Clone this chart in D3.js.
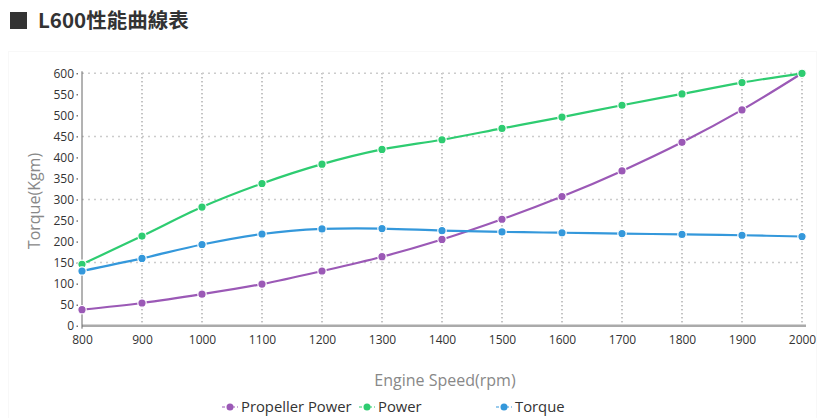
<!DOCTYPE html>
<html>
<head>
<meta charset="utf-8">
<script src="https://cdn.jsdelivr.net/npm/d3@7"></script>
<style>
body { margin: 0; background: #fff; font-family: "Open Sans", "Noto Sans", sans-serif; }
</style>
</head>
<body>
<div id="svgDiv"></div>
<script>
var w = 825;
var h = 418;

// data
var rpm = [800, 900, 1000, 1100, 1200, 1300, 1400, 1500, 1600, 1700, 1800, 1900, 2000];
var propellerPower = [38, 54, 75, 99, 130, 164, 205, 253, 307, 368, 436, 513, 600];
var power = [146, 213, 282, 338, 384, 419, 442, 469, 496, 524, 551, 578, 600];
var torque = [130, 160, 193, 218, 230, 231, 226, 223, 221, 219, 217, 215, 212];
var yTicks = [0, 50, 100, 150, 200, 250, 300, 350, 400, 450, 500, 550, 600];
var yGrid = [150, 300, 450, 600];

var seriesNames = ['Propeller Power', 'Power', 'Torque'];
var seriesColors = ['#9b59b6', '#2ecc71', '#3498db'];
var seriesValues = [propellerPower, power, torque];

var svg = d3.select("#svgDiv")
	.append("svg")
	.attr("width", w)
	.attr("height", h);

// title
svg.append("rect")
	.attr("x", 10).attr("y", 12)
	.attr("width", 17).attr("height", 17)
	.style("fill", "#333");
svg.append("text")
	.attr("x", 38).attr("y", 28)
	.style("font-family", "'Noto Sans CJK TC', sans-serif")
	.style("font-weight", "bold")
	.style("font-size", "20.5px")
	.style("fill", "#333")
	.text("L600性能曲線表");

// faint frame
svg.append("rect")
	.attr("x", 8.5).attr("y", 51.5)
	.attr("width", 808).attr("height", 370)
	.style("fill", "none")
	.style("stroke", "#f8f8f8");

var x = d3.scaleLinear().domain([800, 2000]).range([82, 802]);
var y = d3.scaleLinear().domain([0, 600]).range([325.7, 73.3]);

// vertical grid
svg.append("g")
	.selectAll("line")
	.data(rpm.slice(1))
	.enter()
	.append("line")
	.attr("x1", function(d) { return x(d); })
	.attr("x2", function(d) { return x(d); })
	.attr("y1", y(600))
	.attr("y2", y(0))
	.style("stroke", "#555")
	.style("stroke-width", 1)
	.style("stroke-dasharray", "1,3");

// horizontal grid
svg.append("g")
	.selectAll("line")
	.data(yGrid)
	.enter()
	.append("line")
	.attr("x1", x(800))
	.attr("x2", x(2000))
	.attr("y1", function(d) { return y(d); })
	.attr("y2", function(d) { return y(d); })
	.style("stroke", "#ccc")
	.style("stroke-width", 1.5)
	.style("stroke-dasharray", "2,4");

// x axis
var xAxis = svg.append("g")
	.attr("transform", "translate(0," + y(0) + ")")
	.call(d3.axisBottom(x).tickValues(rpm).tickSize(0).tickPadding(10).tickFormat(d3.format("d")));
xAxis.select(".domain").style("stroke", "#aaa").style("stroke-width", 2.5)
	.attr("d", "M" + x(800) + ",0H" + (x(2000) + 4));
xAxis.selectAll("text")
	.style("font-family", "'Open Sans', sans-serif")
	.style("font-size", "12px")
	.style("fill", "#333");

// y axis
var yAxis = svg.append("g")
	.attr("transform", "translate(" + x(800) + ",0)")
	.call(d3.axisLeft(y).tickValues(yTicks).tickSize(2).tickPadding(6));
yAxis.select(".domain").style("stroke", "#666").attr("d", "M0," + (y(600) - 2) + "V" + (y(0) + 3));
yAxis.selectAll(".tick line").style("stroke", "#333").attr("x1", -4).attr("x2", -5.5);
yAxis.selectAll("text")
	.style("font-family", "'Open Sans', sans-serif")
	.style("font-size", "12px")
	.style("fill", "#333");

// axis titles
svg.append("text")
	.attr("x", 445).attr("y", 386)
	.attr("text-anchor", "middle")
	.style("font-family", "'Open Sans', sans-serif")
	.style("font-size", "16px")
	.style("fill", "#888")
	.text("Engine Speed(rpm)");

svg.append("text")
	.attr("transform", "translate(40,201) rotate(-90)")
	.attr("text-anchor", "middle")
	.style("font-family", "'Open Sans', sans-serif")
	.style("font-size", "16px")
	.style("fill", "#888")
	.text("Torque(Kgm)");

// lines
var line = d3.line()
	.x(function(d) { return x(d[0]); })
	.y(function(d) { return y(d[1]); })
	.curve(d3.curveCatmullRom.alpha(0.5));

for (var i = 0; i < seriesValues.length; i++) {
	var pts = rpm.map(function(r, j) { return [r, seriesValues[i][j]]; });
	var g = svg.append("g");
	g.append("path")
		.datum(pts)
		.attr("d", line)
		.style("fill", "none")
		.style("stroke", seriesColors[i])
		.style("stroke-width", 2.2);
	g.selectAll("circle")
		.data(pts)
		.enter()
		.append("circle")
		.attr("cx", function(d) { return x(d[0]); })
		.attr("cy", function(d) { return y(d[1]); })
		.attr("r", 4.2)
		.style("fill", seriesColors[i])
		.style("stroke", "#fff")
		.style("stroke-width", 1.2);
}

// legend
var legendX = [222, 359, 496];
var legend = svg.append("g").attr("transform", "translate(0,407)");
var items = legend.selectAll("g")
	.data(seriesNames)
	.enter()
	.append("g")
	.attr("transform", function(d, i) { return "translate(" + legendX[i] + ",0)"; });
items.append("line")
	.attr("x1", 0).attr("x2", 16)
	.style("stroke", function(d, i) { return seriesColors[i]; })
	.style("stroke-width", 1)
	.style("stroke-dasharray", "3,2");
items.append("circle")
	.attr("cx", 8).attr("r", 3.5)
	.style("fill", function(d, i) { return seriesColors[i]; });
items.append("text")
	.attr("x", 19).attr("y", 5)
	.style("font-family", "'Open Sans', sans-serif")
	.style("font-size", "14.8px")
	.style("fill", "#333")
	.text(function(d) { return d; });
</script>
</body>
</html>
